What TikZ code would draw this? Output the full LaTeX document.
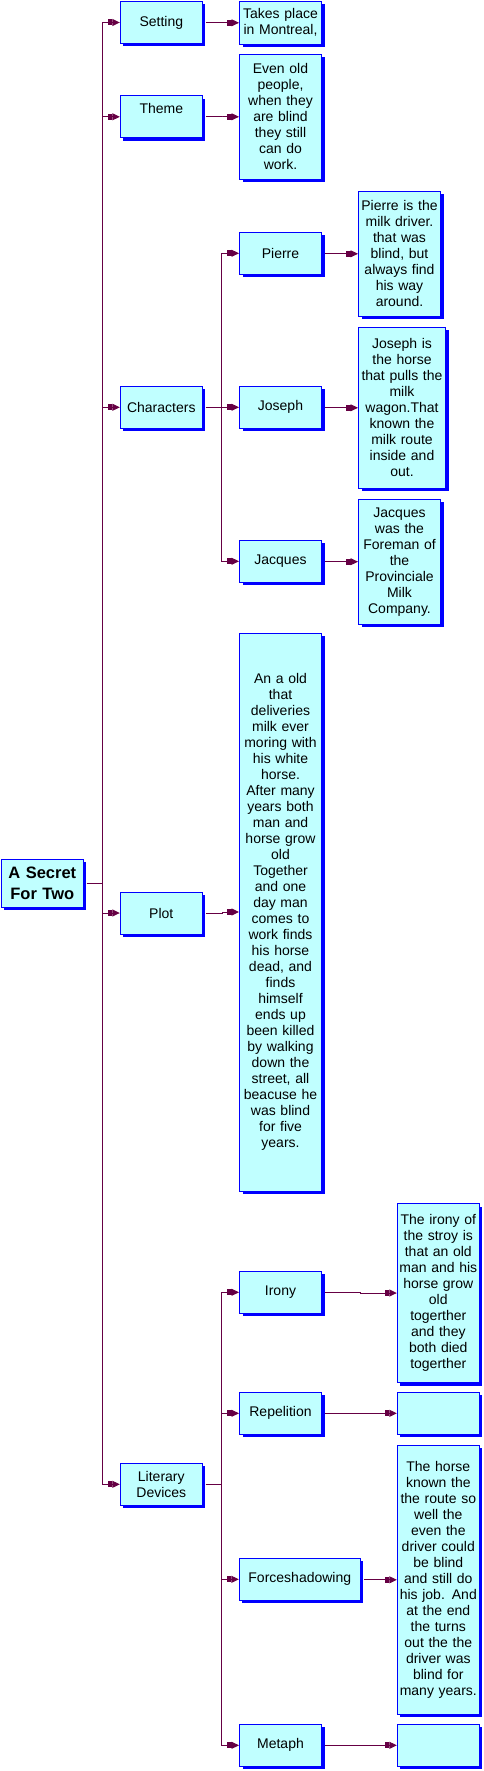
\documentclass[tikz,border=0pt]{standalone}
\usepackage{fontspec}
\setmainfont{Liberation Sans}
\usetikzlibrary{arrows.meta,calc,shadows}
\definecolor{paleaqua}{RGB}{192,255,255}
\definecolor{wine}{RGB}{102,0,68}
\tikzset{
  card/.style={draw=blue, fill=paleaqua, line width=1pt, inner sep=2pt, align=center,
    text width=78pt, minimum width=82pt, minimum height=42pt,
    font=\fontsize{14pt}{16pt}\selectfont,
    drop shadow={shadow xshift=3pt, shadow yshift=-3pt, fill=blue, opacity=1}},
  link/.style={draw=wine, line width=1pt,
    -{Rectangle[length=4.5pt,width=6pt]Triangle[length=7.5pt,width=7pt]}}
}

\begin{document}
\begin{tikzpicture}[x=1pt,y=-1pt]
    \useasboundingbox (0,0) rectangle (484,1771);
    % root of the tree
    \node[card, minimum height=48pt, font=\fontsize{16.5pt}{21pt}\selectfont\bfseries] (root) at (42.3,883.3) {A Secret\\For Two};
    % first level
    \node[card] (setting) at (161.3,22.5) {Setting};
    \node[card] (theme) at (161.3,116.8) {Theme\\ \mbox{}};
    \node[card] (characters) at (161.3,407.3) {Characters};
    \node[card] (plot) at (161.3,913) {Plot};
    \node[card] (literary) at (161.3,1484.3) {Literary\\Devices};
    % second level
    \node[card, minimum height=43pt] (settingD) at (280.5,22.8) {Takes place\\in Montreal,};
    \node[card, minimum height=125pt] (themeD) at (280.5,116.8) {Even old\\people,\\when they\\are blind\\they still\\can do\\work.};
    \node[card] (pierre) at (280.5,253.3) {Pierre};
    \node[card] (joseph) at (280.5,407.3) {Joseph};
    \node[card] (jacques) at (280.5,561.3) {Jacques};
    \node[card, minimum height=558pt] (plotD) at (280.5,912) {An a old\\that\\deliveries\\milk ever\\moring with\\his white\\horse.\\After many\\years both\\man and\\horse grow\\old\\Together\\and one\\day man\\comes to\\work finds\\his horse\\dead, and\\finds\\himself\\ends up\\been killed\\by walking\\down the\\street, all\\beacuse he\\was blind\\for five\\years.};
    \node[card] (irony) at (280.5,1292.3) {Irony};
    \node[card] (repel) at (280.5,1413.3) {Repelition};
    \node[card, text width=117pt, minimum width=121pt] (fore) at (299.8,1579.3) {Forceshadowing};
    \node[card] (metaph) at (280.5,1745.3) {Metaph};
    % third level
    \node[card, minimum height=125pt] (pierreD) at (399.5,253.8) {Pierre is the\\milk driver.\\that was\\blind, but\\always find\\his way\\around.};
    \node[card, text width=83pt, minimum width=87pt, minimum height=161pt] (josephD) at (402,407.8) {Joseph is\\the horse\\that pulls the\\milk\\wagon.That\\known the\\milk route\\inside and\\out.};
    \node[card, minimum height=125pt] (jacquesD) at (399.5,561.7) {Jacques\\was the\\Foreman of\\the\\Provinciale\\Milk\\Company.};
    \node[card, minimum height=179pt] (ironyD) at (438.3,1293) {The irony of\\the stroy is\\that an old\\man and his\\horse grow\\old\\togerther\\and they\\both died\\togerther};
    \node[card] (repelD) at (438.3,1413.3) {};
    \node[card, minimum height=269pt] (foreD) at (438.3,1579.8) {The horse\\known the\\the route so\\well the\\even the\\driver could\\be blind\\and still do\\his job. And\\at the end\\the turns\\out the the\\driver was\\blind for\\many years.};
    \node[card] (metaphD) at (438.3,1745.3) {};
    % connectors
    \foreach \c in {setting,theme,characters,plot,literary}
        \draw[link] ([xshift=3pt]root.east) -- ++(16,0) |- (\c.west);
    \foreach \c in {pierre,joseph,jacques}
        \draw[link] ([xshift=3pt]characters.east) -- ++(16,0) |- (\c.west);
    \foreach \c in {irony,repel,fore,metaph}
        \draw[link] ([xshift=3pt]literary.east) -- ++(16,0) |- (\c.west);
    \foreach \a/\b in {setting/settingD,theme/themeD,pierre/pierreD,joseph/josephD,jacques/jacquesD,plot/plotD,irony/ironyD,repel/repelD,fore/foreD,metaph/metaphD}
        \draw[link] ([xshift=3pt]\a.east) -| ($([xshift=3pt]\a.east)!.5!(\b.west)$) |- (\b.west);
\end{tikzpicture}
\end{document}
